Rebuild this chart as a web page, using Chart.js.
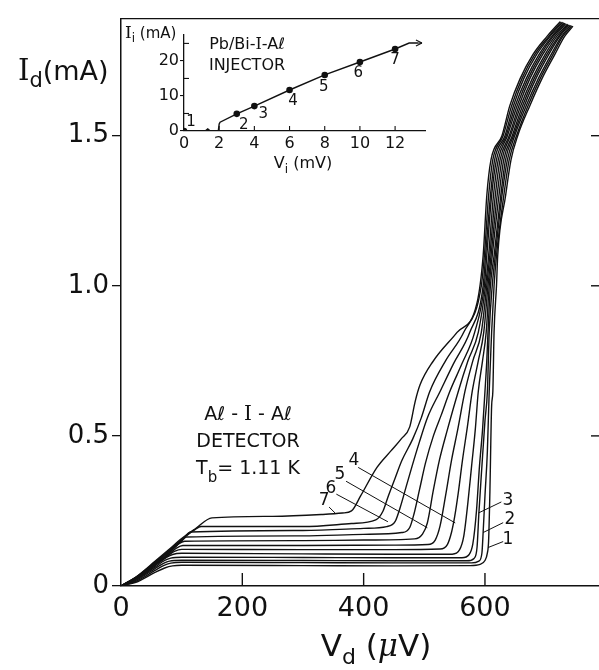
<!DOCTYPE html>
<html>
<head>
<meta charset="utf-8">
<script src="https://cdn.jsdelivr.net/npm/chart.js@4.4.0/dist/chart.umd.min.js"></script>
<style>
html, body { margin: 0; padding: 0; background: #fff; }
#wrap { position: relative; width: 599px; height: 670px; }
#mainChart { position: absolute; left: 0; top: 0; }
#insetChart { position: absolute; left: 122px; top: 14px; }
</style>
</head>
<body>
<div id="wrap">
  <canvas id="mainChart" width="599" height="670"></canvas>
  <canvas id="insetChart" width="330" height="165"></canvas>
</div>
<script>
// detector I-V curves, [V_d (uV), I_d (mA)], lowest injection first
const curve1 = [[0,0],[28,0.015],[56,0.045],[72,0.06],[85,0.067],[100,0.069],[300,0.068],[450,0.067],[575,0.068],[592,0.072],[600,0.085],[604,0.11],[606,0.15],[608,0.3],[611,0.6],[613,0.648],[615,0.845],[619,1.0],[621,1.1],[634,1.3],[643,1.42],[654,1.5],[674,1.6],[694,1.69],[715,1.77],[731,1.83],[745,1.865]];
const curve2 = [[0,0],[28,0.019],[56,0.052],[70,0.068],[82,0.076],[100,0.079],[300,0.078],[450,0.077],[578,0.077],[590,0.083],[595,0.11],[597,0.178],[600,0.3],[604,0.45],[607,0.648],[611,0.845],[615,1.0],[619,1.1],[631,1.3],[640,1.42],[652,1.5],[671,1.6],[691,1.69],[712,1.77],[728,1.83],[743,1.866]];
const curve3 = [[0,0],[28,0.022],[56,0.058],[70,0.075],[80,0.083],[100,0.086],[300,0.085],[450,0.084],[570,0.084],[582,0.092],[587,0.13],[590,0.243],[595,0.4],[600,0.55],[604,0.648],[607,0.845],[612,1.0],[617,1.1],[628,1.3],[637,1.42],[649,1.5],[668,1.6],[688,1.69],[709,1.77],[726,1.83],[741,1.868]];
const curve4 = [[0,0],[28,0.025],[56,0.063],[72,0.085],[82,0.093],[100,0.096],[300,0.095],[450,0.094],[562,0.094],[574,0.105],[580,0.14],[586,0.25],[591,0.4],[596,0.52],[600,0.648],[603,0.75],[605,0.845],[609,1.0],[615,1.1],[626,1.3],[634,1.42],[647,1.5],[665,1.6],[684,1.69],[705,1.77],[723,1.83],[739,1.869]];
const curve5 = [[0,0],[28,0.027],[56,0.067],[75,0.095],[85,0.105],[100,0.109],[300,0.107],[450,0.106],[546,0.106],[558,0.12],[565,0.165],[572,0.28],[578,0.4],[584,0.52],[589,0.648],[596,0.75],[602,0.845],[607,1.0],[612,1.1],[623,1.3],[631,1.42],[645,1.5],[662,1.6],[681,1.69],[702,1.77],[721,1.83],[737,1.87]];
const curve6 = [[0,0],[28,0.029],[56,0.07],[77,0.1],[88,0.115],[100,0.122],[300,0.121],[450,0.121],[526,0.123],[538,0.138],[545,0.18],[550,0.23],[556,0.31],[563,0.42],[571,0.53],[579,0.648],[589,0.75],[598,0.845],[605,1.0],[610,1.1],[620,1.3],[628,1.42],[642,1.5],[659,1.6],[678,1.69],[699,1.77],[718,1.83],[736,1.872]];
const curve7 = [[0,0],[28,0.03],[56,0.072],[77,0.102],[92,0.127],[102,0.135],[300,0.135],[450,0.136],[506,0.138],[518,0.153],[526,0.2],[535,0.3],[545,0.42],[555,0.52],[567,0.648],[580,0.75],[594,0.845],[603,1.0],[608,1.1],[617,1.3],[625,1.42],[640,1.5],[656,1.6],[674,1.69],[695,1.77],[715,1.83],[733,1.873]];
const curve8 = [[0,0],[28,0.031],[56,0.074],[77,0.105],[95,0.14],[105,0.149],[300,0.151],[400,0.153],[484,0.157],[497,0.173],[505,0.21],[515,0.32],[525,0.42],[538,0.52],[556,0.648],[572,0.75],[589,0.845],[601,1.0],[606,1.1],[614,1.3],[622,1.42],[637,1.5],[653,1.6],[671,1.69],[692,1.77],[712,1.83],[732,1.875]];
const curve9 = [[0,0],[28,0.032],[56,0.076],[77,0.108],[100,0.15],[108,0.163],[300,0.167],[400,0.172],[463,0.178],[476,0.195],[483,0.24],[492,0.32],[502,0.41],[515,0.5],[528,0.57],[542,0.648],[562,0.74],[583,0.845],[599,1.0],[603,1.1],[611,1.3],[619,1.42],[635,1.5],[650,1.6],[668,1.69],[689,1.77],[710,1.83],[730,1.876]];
const curve10 = [[0,0],[28,0.033],[56,0.078],[77,0.112],[100,0.152],[115,0.18],[300,0.185],[400,0.192],[438,0.198],[452,0.215],[460,0.26],[470,0.33],[480,0.4],[492,0.48],[505,0.56],[526,0.648],[548,0.74],[575,0.845],[597,1.0],[601,1.1],[609,1.3],[616,1.42],[633,1.5],[647,1.6],[664,1.69],[685,1.77],[707,1.83],[728,1.878]];
const curve11 = [[0,0],[28,0.034],[56,0.08],[77,0.115],[100,0.155],[122,0.188],[132,0.198],[300,0.198],[380,0.208],[420,0.22],[432,0.25],[440,0.296],[452,0.36],[463,0.418],[481,0.49],[495,0.56],[509,0.648],[535,0.75],[565,0.845],[594,1.0],[599,1.1],[606,1.3],[613,1.42],[630,1.5],[644,1.6],[661,1.69],[682,1.77],[705,1.83],[726,1.879]];
const curve12 = [[0,0],[28,0.035],[56,0.082],[77,0.118],[100,0.158],[122,0.19],[150,0.227],[250,0.232],[330,0.238],[365,0.243],[380,0.25],[395,0.3],[422,0.395],[445,0.45],[462,0.49],[476,0.53],[485,0.615],[493,0.67],[514,0.747],[554,0.845],[587,0.944],[597,1.1],[603,1.3],[610,1.42],[628,1.5],[641,1.6],[658,1.69],[679,1.77],[702,1.83],[724,1.88]];
const detectorCurves = [curve1, curve2, curve3, curve4, curve5, curve6, curve7, curve8, curve9, curve10, curve11, curve12];

const xTickValues = [0, 200, 400, 600];
const yTickValues = [0, 0.5, 1.0, 1.5];

// curve labels: text position and leader line, all in data units
const curveLabels = ['1', '2', '3', '4', '5', '6', '7'];
const labelTextPos = [[638,0.155],[641,0.22],[638,0.286],[384,0.418],[361,0.372],[346,0.326],[335,0.286]];
const labelLineFrom = [[630,0.148],[630,0.211],[627,0.28],[391,0.395],[371,0.349],[355,0.306],[343,0.263]];
const labelLineTo = [[605,0.128],[597,0.178],[589,0.243],[551,0.21],[505,0.194],[440,0.214],[353,0.243]];

// injector I-V (inset), V_i in mV, I_i in mA
const injectorV = [0, 1.2, 1.35, 1.5, 1.95, 2.0, 2.05, 3, 4, 6, 8, 10, 12, 12.8, 13.3];
const injectorI = [0, 0, 0.6, 0, 0, 2.0, 2.5, 4.9, 7.1, 11.7, 16, 19.7, 23.4, 25.1, 25.1];
const injectorPointV = [0, 3, 4, 6, 8, 10, 12];
const injectorPointI = [0, 4.9, 7.1, 11.7, 16, 19.7, 23.4];
const injectorLabelPos = [[0.4,2.6],[3.4,1.6],[4.5,4.7],[6.2,8.6],[7.95,12.4],[9.9,16.4],[12.0,20.2]];
const insetXTicks = [0, 2, 4, 6, 8, 10, 12];
const insetYTicks = [0, 10, 20];
const insetMinorY = [5, 15, 25];

const SANS = '"DejaVu Sans", sans-serif';
const SERIF = '"DejaVu Serif", serif';
const INK = '#111';

function line(ctx, x1, y1, x2, y2) {
    ctx.beginPath();
    ctx.moveTo(x1, y1);
    ctx.lineTo(x2, y2);
    ctx.stroke();
}

// draw text made of pieces (for subscripts / mixed fonts)
function drawParts(ctx, parts, x, y, align) {
    const fontOf = p => `${p.st || ''} ${p.s}px ${p.f || SANS}`;
    let w = 0;
    parts.forEach(p => { ctx.font = fontOf(p); w += ctx.measureText(p.t).width; });
    let cx = align === 'center' ? x - w / 2 : (align === 'right' ? x - w : x);
    ctx.textAlign = 'left';
    ctx.textBaseline = 'alphabetic';
    parts.forEach(p => {
        ctx.font = fontOf(p);
        ctx.fillText(p.t, cx, y + (p.dy || 0));
        cx += ctx.measureText(p.t).width;
    });
}

const mainDecor = {
    id: 'mainDecor',
    afterDraw(chart) {
        const { ctx, chartArea: a, scales: { x, y } } = chart;
        ctx.save();
        ctx.strokeStyle = INK;
        ctx.fillStyle = INK;
        ctx.lineWidth = 1.4;
        line(ctx, a.left, a.top, a.right, a.top);
        xTickValues.slice(1).forEach(v => {
            const px = x.getPixelForValue(v);
            line(ctx, px, a.bottom, px, a.bottom - 13);
        });
        yTickValues.slice(1).forEach(v => {
            const py = y.getPixelForValue(v);
            line(ctx, a.right - 8, py, a.right, py);
        });

        // curve labels with leader lines
        ctx.lineWidth = 1;
        curveLabels.forEach((t, i) => {
            line(ctx, x.getPixelForValue(labelLineFrom[i][0]), y.getPixelForValue(labelLineFrom[i][1]),
                 x.getPixelForValue(labelLineTo[i][0]), y.getPixelForValue(labelLineTo[i][1]));
            ctx.font = `17px ${SANS}`;
            ctx.textAlign = 'center';
            ctx.textBaseline = 'middle';
            ctx.fillText(t, x.getPixelForValue(labelTextPos[i][0]), y.getPixelForValue(labelTextPos[i][1]));
        });

        // axis titles
        drawParts(ctx, [{t:'I', s:29, f:SERIF}, {t:'d', s:21, dy:7}, {t:'(mA)', s:27}], 18, 80, 'left');
        drawParts(ctx, [{t:'V', s:31}, {t:'d', s:22, dy:8}, {t:' (', s:31}, {t:'\u03bc', s:31, f:SERIF, st:'italic'}, {t:'V)', s:31}], 376, 656, 'center');

        // detector annotation
        drawParts(ctx, [{t:'A\u2113 - ', s:19}, {t:'I', s:20, f:SERIF}, {t:' - A\u2113', s:19}], 248, 420, 'center');
        drawParts(ctx, [{t:'DETECTOR', s:19}], 248, 447, 'center');
        drawParts(ctx, [{t:'T', s:19}, {t:'b', s:15, dy:8}, {t:'= 1.11 K', s:19}], 248, 474, 'center');
        ctx.restore();
    }
};

new Chart(document.getElementById('mainChart').getContext('2d'), {
    type: 'scatter',
    data: {
        datasets: detectorCurves.map(c => ({
            data: c.map(p => ({ x: p[0], y: p[1] })),
            showLine: true,
            borderColor: INK,
            borderWidth: 1.4,
            pointRadius: 0,
            cubicInterpolationMode: 'monotone',
            fill: false
        }))
    },
    options: {
        responsive: false,
        animation: false,
        devicePixelRatio: 1,
        layout: { padding: { top: 12, right: 0, left: 0, bottom: 0 } },
        plugins: { legend: { display: false }, tooltip: { enabled: false } },
        scales: {
            x: {
                type: 'linear', min: 0, max: 788,
                afterBuildTicks: s => { s.ticks = xTickValues.map(v => ({ value: v })); },
                afterFit: s => { s.height = 84; },
                ticks: { font: { family: SANS, size: 27 }, color: INK, padding: 7, maxRotation: 0, autoSkip: false,
                         callback: v => String(v) },
                grid: { drawOnChartArea: false, drawTicks: false },
                border: { color: INK, width: 1.5 }
            },
            y: {
                type: 'linear', min: 0, max: 1.89,
                afterBuildTicks: s => { s.ticks = yTickValues.map(v => ({ value: v })); },
                afterFit: s => { s.width = 121; },
                ticks: { font: { family: SANS, size: 26 }, color: INK, padding: 3, autoSkip: false,
                         callback: v => (v === 0 ? '0' : v.toFixed(1)) },
                grid: { drawOnChartArea: false, drawTicks: true, tickLength: 9, color: INK, lineWidth: 1.3 },
                border: { color: INK, width: 1.5 }
            }
        }
    },
    plugins: [mainDecor]
});

const insetDecor = {
    id: 'insetDecor',
    afterDraw(chart) {
        const { ctx, chartArea: a, scales: { x, y } } = chart;
        ctx.save();
        ctx.strokeStyle = INK;
        ctx.fillStyle = INK;
        ctx.lineWidth = 1.1;
        insetXTicks.slice(1).forEach(v => {
            const px = x.getPixelForValue(v);
            line(ctx, px, a.bottom, px, a.bottom - 5);
        });
        insetMinorY.forEach(v => {
            const py = y.getPixelForValue(v);
            line(ctx, a.left, py, a.left + 5, py);
        });
        // arrow at the end of the injector curve
        const n = injectorV.length - 1;
        const tx = x.getPixelForValue(injectorV[n]) + 4, ty = y.getPixelForValue(injectorI[n]);
        line(ctx, x.getPixelForValue(injectorV[n]), ty, tx, ty);
        line(ctx, tx, ty, tx - 6, ty - 3);
        line(ctx, tx, ty, tx - 6, ty + 3);

        injectorLabelPos.forEach((p, i) => {
            ctx.font = `15px ${SANS}`;
            ctx.textAlign = 'center';
            ctx.textBaseline = 'middle';
            ctx.fillText(String(i + 1), x.getPixelForValue(p[0]), y.getPixelForValue(p[1]));
        });
        drawParts(ctx, [{t:'Pb/Bi-', s:16}, {t:'I', s:16, f:SERIF}, {t:'-A\u2113', s:16}], 125, 35, 'center');
        drawParts(ctx, [{t:'INJECTOR', s:16}], 125, 56, 'center');
        drawParts(ctx, [{t:'I', s:17, f:SERIF}, {t:'i', s:12, dy:4}, {t:' (mA)', s:15}], 3, 24, 'left');
        drawParts(ctx, [{t:'V', s:16}, {t:'i', s:12, dy:5}, {t:' (mV)', s:16}], 181, 154, 'center');
        ctx.restore();
    }
};

new Chart(document.getElementById('insetChart').getContext('2d'), {
    type: 'scatter',
    data: {
        datasets: [{
            data: injectorV.map((v, i) => ({ x: v, y: injectorI[i] })),
            showLine: true, borderColor: INK, borderWidth: 1.4, pointRadius: 0, tension: 0, fill: false
        }, {
            data: injectorPointV.map((v, i) => ({ x: v, y: injectorPointI[i] })),
            showLine: false, pointRadius: 3.3, pointBackgroundColor: INK, pointBorderColor: INK, pointBorderWidth: 0
        }]
    },
    options: {
        responsive: false,
        animation: false,
        devicePixelRatio: 1,
        layout: { padding: { top: 21, right: 27, left: 0, bottom: 0 } },
        plugins: { legend: { display: false }, tooltip: { enabled: false } },
        scales: {
            x: {
                type: 'linear', min: 0, max: 13.7,
                afterBuildTicks: s => { s.ticks = insetXTicks.map(v => ({ value: v })); },
                afterFit: s => { s.height = 48; },
                ticks: { font: { family: SANS, size: 16 }, color: INK, padding: 3, maxRotation: 0, autoSkip: false },
                grid: { drawOnChartArea: false, drawTicks: false },
                border: { color: INK, width: 1.3 }
            },
            y: {
                type: 'linear', min: 0, max: 27.4,
                afterBuildTicks: s => { s.ticks = insetYTicks.map(v => ({ value: v })); },
                afterFit: s => { s.width = 62; },
                ticks: { font: { family: SANS, size: 16 }, color: INK, padding: 1, autoSkip: false },
                grid: { drawOnChartArea: false, drawTicks: true, tickLength: 4, color: INK, lineWidth: 1.1 },
                border: { color: INK, width: 1.3 }
            }
        }
    },
    plugins: [insetDecor]
});
</script>
</body>
</html>
